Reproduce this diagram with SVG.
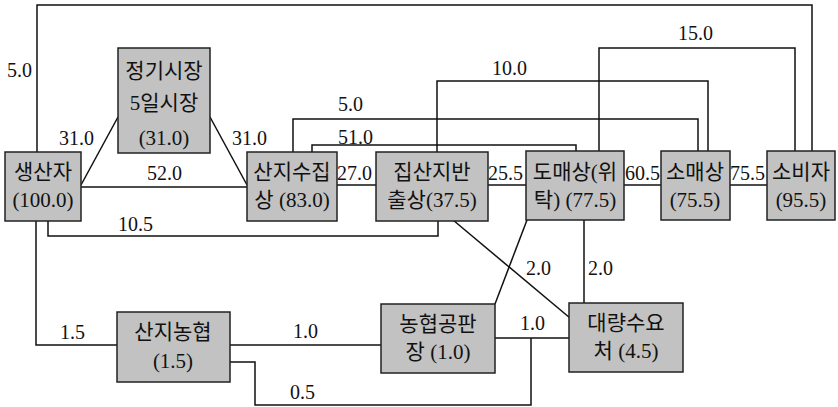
<svg xmlns="http://www.w3.org/2000/svg" width="838" height="407" viewBox="0 0 838 407">
<style>
.box{fill:#c2c2c2;stroke:#222;stroke-width:1.5}
.t{font-family:"Liberation Serif","Noto Sans CJK KR",serif;font-size:20px;fill:#111}
.n{font-size:21px}
.c{text-anchor:middle}
.ln{fill:none;stroke:#111;stroke-width:1.5}
</style>
<rect width="838" height="407" fill="#fff"/>
<g id="connectors">
<polyline class="ln" points="37,152 37,5 812,5 812,151"/>
<line class="ln" x1="81" y1="185" x2="118" y2="117"/>
<line class="ln" x1="81" y1="187" x2="247" y2="187"/>
<line class="ln" x1="210" y1="117" x2="247" y2="185"/>
<polyline class="ln" points="293,152 293,119 698,119 698,151"/>
<polyline class="ln" points="312,152 312,145 576,145 576,151"/>
<line class="ln" x1="337" y1="185" x2="376" y2="185"/>
<polyline class="ln" points="437,152 437,81 708,81 708,151"/>
<polyline class="ln" points="599,151 599,48 795,48 795,151"/>
<line class="ln" x1="488" y1="185" x2="526" y2="185"/>
<line class="ln" x1="624" y1="185" x2="661" y2="185"/>
<line class="ln" x1="730" y1="185" x2="767" y2="185"/>
<polyline class="ln" points="48,221 48,236 438,236 438,221"/>
<polyline class="ln" points="36,221 36,345 117,345"/>
<line class="ln" x1="230" y1="345" x2="381" y2="345"/>
<polyline class="ln" points="230,362 255,362 255,405 531,405 531,338"/>
<line class="ln" x1="495" y1="338" x2="569" y2="338"/>
<line class="ln" x1="453" y1="220" x2="570" y2="318"/>
<line class="ln" x1="527" y1="220" x2="495" y2="304"/>
<line class="ln" x1="584" y1="220" x2="584" y2="303"/>
</g>
<g id="labels">
<text class="t" x="7" y="77">5.0</text>
<text class="t" x="59" y="145">31.0</text>
<text class="t" x="147" y="180">52.0</text>
<text class="t" x="232" y="145">31.0</text>
<text class="t" x="338" y="111">5.0</text>
<text class="t" x="338" y="144">51.0</text>
<text class="t" x="337" y="180">27.0</text>
<text class="t" x="492" y="75">10.0</text>
<text class="t" x="678" y="40">15.0</text>
<text class="t" x="488" y="180">25.5</text>
<text class="t" x="625" y="180">60.5</text>
<text class="t" x="730" y="180">75.5</text>
<text class="t" x="118" y="231">10.5</text>
<text class="t" x="60" y="339">1.5</text>
<text class="t" x="293" y="338">1.0</text>
<text class="t" x="290" y="399">0.5</text>
<text class="t" x="520" y="330">1.0</text>
<text class="t" x="526" y="275">2.0</text>
<text class="t" x="588" y="275">2.0</text>
</g>
<g id="n1"><rect class="box" x="5" y="152" width="76" height="69"/><text class="t n c" x="43" y="179">생산자</text><text class="t n c" x="43" y="207">(100.0)</text></g>
<g id="n2"><rect class="box" x="118" y="48" width="92" height="105"/><text class="t n c" x="164" y="78">정기시장</text><text class="t n c" x="164" y="110">5일시장</text><text class="t n c" x="164" y="145">(31.0)</text></g>
<g id="n3"><rect class="box" x="247" y="152" width="90" height="69"/><text class="t n c" x="292" y="179">산지수집</text><text class="t n c" x="292" y="207">상 (83.0)</text></g>
<g id="n4"><rect class="box" x="376" y="152" width="112" height="69"/><text class="t n c" x="432" y="179">집산지반</text><text class="t n c" x="432" y="207">출상(37.5)</text></g>
<g id="n5"><rect class="box" x="526" y="151" width="98" height="69"/><text class="t n c" x="575" y="179">도매상(위</text><text class="t n c" x="575" y="207">탁) (77.5)</text></g>
<g id="n6"><rect class="box" x="661" y="151" width="69" height="69"/><text class="t n c" x="695" y="179">소매상</text><text class="t n c" x="695" y="207">(75.5)</text></g>
<g id="n7"><rect class="box" x="767" y="151" width="68" height="69"/><text class="t n c" x="801" y="179">소비자</text><text class="t n c" x="801" y="207">(95.5)</text></g>
<g id="n8"><rect class="box" x="117" y="312" width="113" height="70"/><text class="t n c" x="173" y="339">산지농협</text><text class="t n c" x="173" y="368">(1.5)</text></g>
<g id="n9"><rect class="box" x="381" y="304" width="114" height="69"/><text class="t n c" x="438" y="331">농협공판</text><text class="t n c" x="438" y="359">장 (1.0)</text></g>
<g id="n10"><rect class="box" x="569" y="303" width="114" height="69"/><text class="t n c" x="626" y="330">대량수요</text><text class="t n c" x="626" y="358">처 (4.5)</text></g>
</svg>
